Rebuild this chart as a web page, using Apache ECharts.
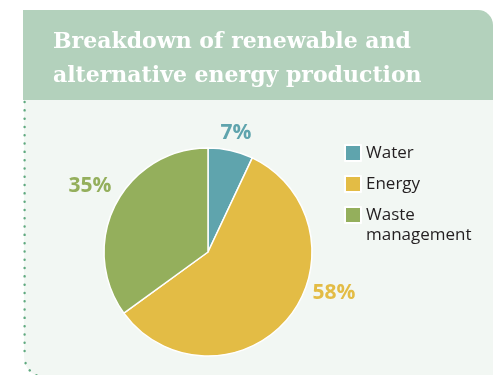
<!DOCTYPE html>
<html>
<head>
<meta charset="utf-8">
<style>
  html, body { margin: 0; padding: 0; background: #ffffff; }
  #chart { width: 493px; height: 375px; }
</style>
<script src="https://cdn.jsdelivr.net/npm/echarts@6/dist/echarts.min.js"></script>
</head>
<body>
<div id="chart"></div>
<script>
// Share of renewable and alternative energy production, in percent
const categories = ['Water', 'Energy', 'Waste management'];
const shares = [7, 58, 35];
const sliceColors = ['#5fa4ad', '#e3bc45', '#94af5c'];

// Where each percentage label sits on the canvas
const labelAnchors = [[236, 133], [334, 293], [90, 186]];

const chart = echarts.init(document.getElementById('chart'), null, { renderer: 'canvas' });

const dotStyle = { fill: null, stroke: '#5fa97f', lineWidth: 2.4, lineDash: [0.1, 8.2], lineCap: 'round' };

const legendText = {
  color: '#231f20',
  fontFamily: 'Open Sans',
  fontSize: 17,
  lineHeight: 20
};

function legendBase(extra) {
  return Object.assign({
    orient: 'vertical',
    left: 344,
    padding: 0,
    itemWidth: 16,
    itemHeight: 16,
    itemGap: 11,
    itemTextGap: 5,
    icon: 'rect',
    selectedMode: false,
    formatter: function (name) {
      // long category wraps onto two lines; the leading blank line
      // keeps its first line level with the swatch
      return name.indexOf(' ') > 0 ? '\n' + name.replace(' ', '\n') : name;
    },
    textStyle: legendText
  }, extra);
}

const option = {
  animation: false,
  backgroundColor: '#ffffff',
  graphic: [
    // light panel behind the chart
    {
      type: 'rect', z: -10,
      shape: { x: 24, y: 100, width: 469, height: 277, r: [0, 0, 0, 20] },
      style: { fill: '#f2f7f3' }
    },
    // header band
    {
      type: 'rect', z: -9,
      shape: { x: 23, y: 10, width: 470, height: 90, r: [0, 15, 0, 0] },
      style: { fill: '#b3d1bc' }
    },
    // dotted left edge with rounded corner
    {
      type: 'line', z: -8,
      shape: { x1: 24.6, y1: 102, x2: 24.6, y2: 357 },
      style: dotStyle
    },
    {
      type: 'arc', z: -8,
      shape: { cx: 44.6, cy: 357, r: 20, startAngle: Math.PI / 2, endAngle: Math.PI, clockwise: true },
      style: dotStyle
    }
  ],
  title: {
    text: 'Breakdown of renewable and\nalternative energy production',
    left: 53,
    top: 25,
    padding: 0,
    textStyle: {
      color: '#ffffff',
      fontFamily: 'DejaVu Serif',
      fontWeight: 'bold',
      fontSize: 22,
      lineHeight: 34
    }
  },
  legend: [
    legendBase({
      top: 143,
      data: [categories[0], categories[1]]
    }),
    legendBase({
      top: 185,
      data: [categories[2]]
    })
  ],
  series: [
    {
      type: 'pie',
      center: [208, 252],
      radius: 104,
      startAngle: 90,
      clockwise: true,
      avoidLabelOverlap: false,
      itemStyle: { borderColor: '#ffffff', borderWidth: 1.5 },
      label: {
        show: true,
        position: 'outside',
        formatter: '{c}%',
        fontFamily: 'Open Sans',
        fontWeight: 'bold',
        fontSize: 21
      },
      labelLine: { show: false },
      labelLayout: function (params) {
        const p = labelAnchors[params.dataIndex];
        return { x: p[0], y: p[1], align: 'center', verticalAlign: 'middle' };
      },
      emphasis: { disabled: true },
      data: categories.map(function (name, i) {
        return {
          name: name,
          value: shares[i],
          itemStyle: { color: sliceColors[i] },
          label: { color: sliceColors[i] }
        };
      })
    }
  ]
};

chart.setOption(option);
</script>
</body>
</html>
